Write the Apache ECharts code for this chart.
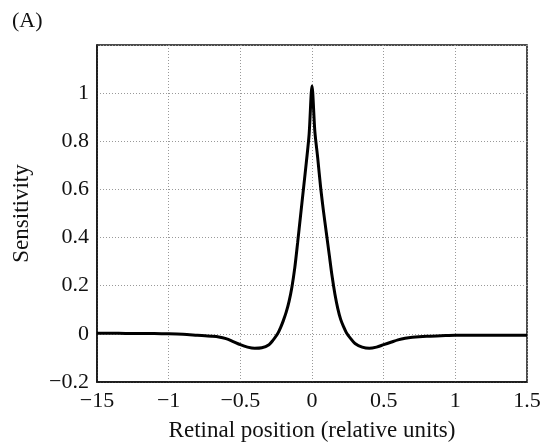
<!DOCTYPE html>
<html>
<head>
<meta charset="utf-8">
<script src="https://cdn.jsdelivr.net/npm/echarts@6/dist/echarts.min.js"></script>
<style>
html,body{margin:0;padding:0;background:#fff;}
#chart{width:544px;height:447px;}
</style>
</head>
<body>
<div id="chart"></div>
<script>
// Data
const positions = [-1.5,-1.4,-1.3,-1.2,-1.1,-1.0,-0.9,-0.8,-0.7,-0.65,-0.6,-0.55,-0.5,-0.45,-0.4,-0.35,-0.3,-0.27,-0.24,-0.22,-0.2,-0.18,-0.16,-0.14,-0.12,-0.1,-0.08,-0.06,-0.04,-0.02,0,0.02,0.04,0.06,0.08,0.1,0.12,0.14,0.16,0.18,0.2,0.22,0.24,0.27,0.3,0.35,0.4,0.45,0.5,0.55,0.6,0.65,0.7,0.8,0.9,1.0,1.1,1.2,1.3,1.4,1.5];
const sensitivity = [0.003,0.003,0.002,0.002,0.001,0.0,-0.002,-0.006,-0.010,-0.013,-0.020,-0.032,-0.045,-0.055,-0.060,-0.058,-0.045,-0.025,0.0,0.025,0.055,0.09,0.135,0.195,0.275,0.38,0.49,0.60,0.71,0.83,1.03,0.84,0.73,0.61,0.51,0.42,0.33,0.24,0.165,0.105,0.06,0.03,0.005,-0.02,-0.04,-0.055,-0.06,-0.055,-0.045,-0.035,-0.025,-0.018,-0.014,-0.010,-0.008,-0.006,-0.006,-0.006,-0.006,-0.006,-0.006];
const xTickValues = [-1.5,-1,-0.5,0,0.5,1,1.5];
const xTickLabels = ['\u221215','\u22121','\u22120.5','0','0.5','1','1.5'];
const yTickValues = [-0.2,0,0.2,0.4,0.6,0.8,1,1.2];
const yTickLabels = ['\u22120.2','0','0.2','0.4','0.6','0.8','1',''];
const xTitle = 'Retinal position (relative units)';
const yTitle = 'Sensitivity';
const panelLabel = '(A)';

function lookup(vals, labels, v){
  for (let i=0;i<vals.length;i++){ if (Math.abs(vals[i]-v)<1e-6) return labels[i]; }
  return '';
}
const FONT = '"Liberation Serif", "Times New Roman", serif';
const chart = echarts.init(document.getElementById('chart'), null, {renderer:'canvas'});
chart.setOption({
  animation:false,
  backgroundColor:'#fff',
  title:{text:panelLabel,left:7,top:5,textStyle:{fontFamily:FONT,fontSize:22,fontWeight:'normal',color:'#111'}},
  grid:{left:97,right:17,top:45,bottom:65,show:true,borderColor:'#111',borderWidth:1.5,backgroundColor:'transparent'},
  xAxis:{type:'value',min:-1.5,max:1.5,interval:0.5,
    name:xTitle,nameLocation:'middle',nameGap:37,
    nameTextStyle:{fontFamily:FONT,fontSize:23,color:'#111'},
    axisLine:{show:true,onZero:false,lineStyle:{color:'#111',width:1.5}},
    axisTick:{show:false},
    axisLabel:{fontFamily:FONT,fontSize:22,color:'#111',margin:8,formatter:v=>lookup(xTickValues,xTickLabels,v)},
    splitLine:{show:true,lineStyle:{color:'#999',width:1,type:[1,2]}}},
  yAxis:{type:'value',min:-0.2,max:1.2,interval:0.2,
    name:yTitle,nameLocation:'middle',nameGap:64,nameRotate:90,
    nameTextStyle:{fontFamily:FONT,fontSize:23,color:'#111'},
    axisLine:{show:true,onZero:false,lineStyle:{color:'#111',width:1.5}},
    axisTick:{show:false},
    axisLabel:{fontFamily:FONT,fontSize:22,color:'#111',margin:8,formatter:v=>lookup(yTickValues,yTickLabels,v)},
    splitLine:{show:true,lineStyle:{color:'#999',width:1,type:[1,2]}}},
  series:[{type:'line',data:positions.map((x,i)=>[x,sensitivity[i]]),showSymbol:false,smooth:0.3,
    lineStyle:{color:'#000',width:3},z:5}]
});
</script>
</body>
</html>
